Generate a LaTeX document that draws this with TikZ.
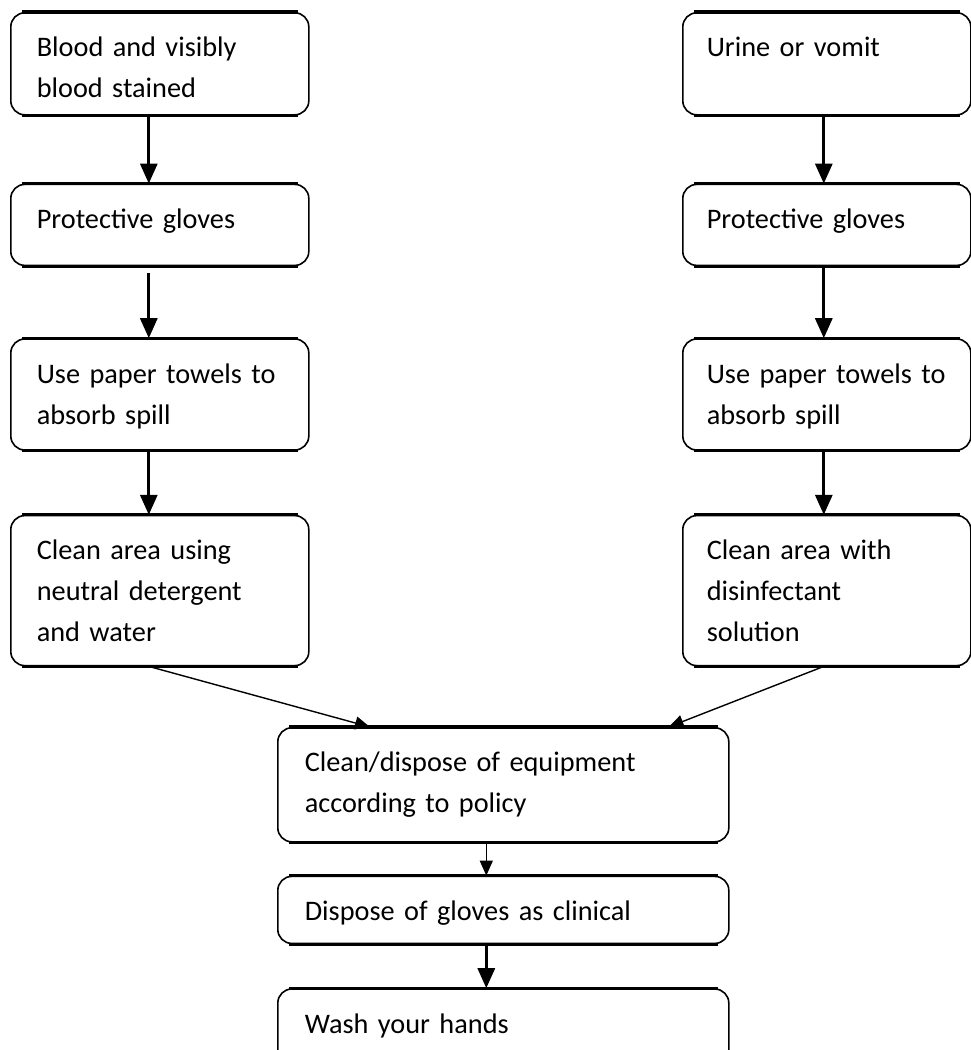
\documentclass[tikz,border=0pt]{standalone}
\usepackage{fontspec}
\setmainfont{Carlito}
\usetikzlibrary{positioning, arrows.meta}

\begin{document}
\begin{tikzpicture}[x=1pt,y=-1pt,node distance=68pt,
    box/.style={draw, line width=1.6pt, rounded corners=14pt, inner ysep=0pt,
        align=left, font={\fontsize{28.3}{41}\selectfont}, text height=44pt},
    lbox/.style={box, inner xsep=26pt, text width=246pt},
    rbox/.style={box, inner xsep=24pt, text width=240pt},
    cbox/.style={box, inner xsep=27pt, text width=397pt},
    rim/.style={line width=3.2pt},
    flow/.style={-{Triangle[length=20pt,width=17pt]}, line width=3pt},
    thinflow/.style={-{Triangle[length=15pt,width=13pt]}, line width=1.4pt}]

    \clip (0,0) rectangle (971,1050);

    % left column
    \node[lbox, text depth=58pt, anchor=north west] (blood) at (10,12) {Blood and visibly\\blood stained};
    \node[lbox, text depth=37pt] (bgloves) [below=68pt of blood] {Protective gloves};
    \node[lbox, text depth=67pt] (btowels) [below=72pt of bgloves] {Use paper towels to\\absorb spill};
    \node[lbox, text depth=106pt] (bclean) [below=64pt of btowels] {Clean area using\\neutral detergent\\and water};

    % right column
    \node[rbox, text depth=58pt, anchor=north west] (urine) at (682,12) {Urine or vomit};
    \node[rbox, text depth=37pt] (ugloves) [below=68pt of urine] {Protective gloves};
    \node[rbox, text depth=67pt] (utowels) [below=72pt of ugloves] {Use paper towels to\\absorb spill};
    \node[rbox, text depth=106pt] (uclean) [below=64pt of utowels] {Clean area with\\disinfectant\\solution};

    % centre column
    \node[cbox, text depth=70pt, anchor=north west] (equip) at (277,727) {Clean/dispose of equipment\\according to policy};
    \node[cbox, text depth=23pt] (gloves) [below=33pt of equip] {Dispose of gloves as clinical};
    \node[cbox, text depth=45pt] (wash) [below=44pt of gloves] {Wash your hands};

    \foreach \n in {blood,bgloves,btowels,bclean,urine,ugloves,utowels,uclean,equip,gloves,wash}
        \draw[rim] ([xshift=12pt]\n.north west) -- ([xshift=-12pt]\n.north east)
                   ([xshift=12pt]\n.south west) -- ([xshift=-12pt]\n.south east);

    \draw[flow] ([xshift=-11pt]blood.south) -- ([xshift=-11pt]bgloves.north);
    \draw[flow] ([xshift=-11pt,yshift=-7pt]bgloves.south) -- ([xshift=-11pt]btowels.north);
    \draw[flow] ([xshift=-11pt]btowels.south) -- ([xshift=-11pt]bclean.north);

    \draw[flow] ([xshift=-3pt]urine.south) -- ([xshift=-3pt]ugloves.north);
    \draw[flow] ([xshift=-3pt]ugloves.south) -- ([xshift=-3pt]utowels.north);
    \draw[flow] ([xshift=-3pt]utowels.south) -- ([xshift=-3pt]uclean.north);

    \draw[thinflow] ([xshift=-11pt]bclean.south) -- ([xshift=93pt]equip.north west);
    \draw[thinflow] ([xshift=-3pt]uclean.south) -- ([xshift=-61pt]equip.north east);
    \draw[thinflow] ([xshift=-17pt]equip.south) -- ([xshift=-17pt]gloves.north);
    \draw[flow] ([xshift=-17pt]gloves.south) -- ([xshift=-17pt]wash.north);
\end{tikzpicture}
\end{document}
